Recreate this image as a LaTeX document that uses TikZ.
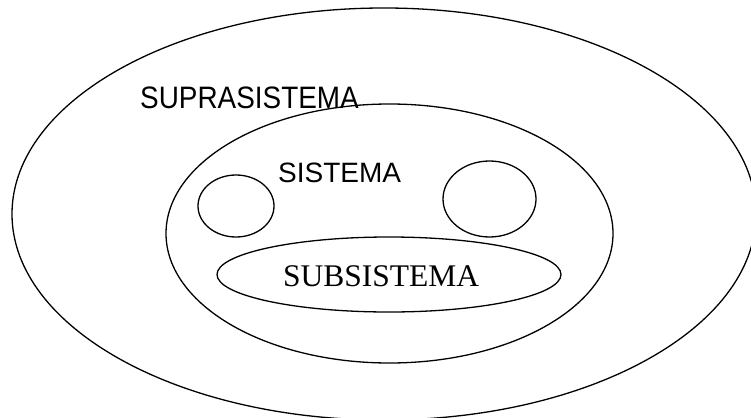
\documentclass[tikz,border=0pt]{standalone}
\usepackage{fontspec}
\setmainfont{Liberation Serif}
\setsansfont{Liberation Sans}
\newfontfamily\narrowsans[FakeStretch=0.9]{Liberation Sans}
\begin{document}
\begin{tikzpicture}[x=1pt,y=-1pt,
  ring/.style={draw=black,line width=1.3pt},
  sanslabel/.style={anchor=base west,inner sep=0pt,font=\sffamily\fontsize{28}{30}\selectfont},
  supralabel/.style={anchor=base west,inner sep=0pt,font=\narrowsans\fontsize{31}{33}\selectfont},
  seriflabel/.style={anchor=base west,inner sep=0pt,font=\rmfamily\fontsize{31.5}{33}\selectfont}]
\useasboundingbox (0,0) rectangle (751,417);
\fill[white] (0,0) rectangle (751,417);
\draw[ring] (384,214) ellipse [x radius=372, y radius=206];
\draw[ring] (389.5,233.5) ellipse [x radius=223.5, y radius=129.5];
\draw[ring] (236,206) ellipse [x radius=38, y radius=31];
\draw[ring] (489.5,199) ellipse [x radius=46.5, y radius=38];
\draw[ring] (389,274.5) ellipse [x radius=172, y radius=37.5];
\node[supralabel] (supra) at (140,108) {SUPRASISTEMA};
\node[sanslabel] (sis) at (278,182) {SISTEMA};
\node[seriflabel] (sub) at (283,286) {SUBSISTEMA};
\end{tikzpicture}
\end{document}
